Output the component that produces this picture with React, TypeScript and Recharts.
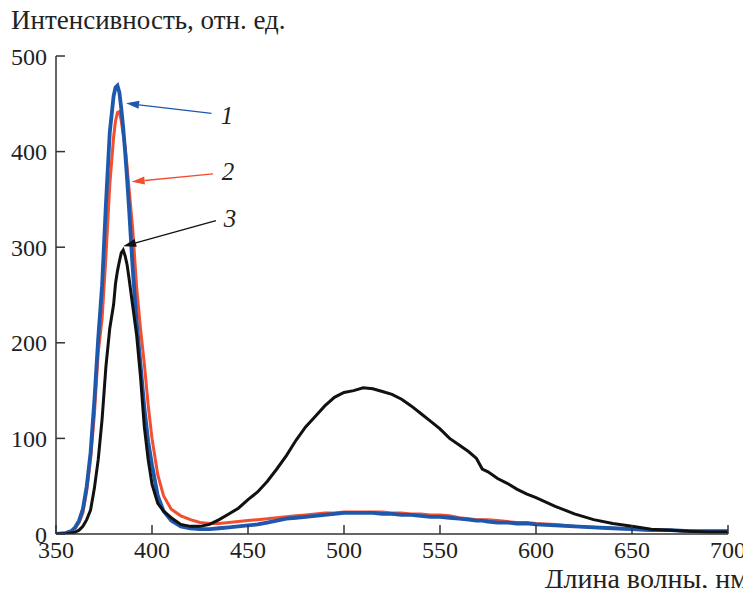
import React from 'react';
import {
  LineChart,
  Line,
  XAxis,
  YAxis,
  ReferenceLine,
  ReferenceDot,
} from 'recharts';

// длина волны, нм
const wavelengths = [
  350, 355, 358, 360, 362, 364, 366, 368, 370, 372, 374, 376, 378, 380, 381, 382, 383, 384, 385, 386,
  387, 388, 390, 392, 394, 396, 398, 400, 403, 406, 410, 415, 420, 425, 430, 435, 440, 445, 450, 455,
  460, 465, 470, 475, 480, 485, 490, 495, 500, 505, 510, 515, 520, 525, 530, 535, 540, 545, 550, 555,
  560, 565, 569, 572, 575, 580, 585, 590, 595, 600, 610, 620, 630, 640, 650, 660, 670, 680, 690, 700,
];

// кривая 1 (синяя)
const curve1 = [
  0, 1, 3, 7, 14, 26, 50, 85, 140, 205, 260, 345, 420, 458, 467, 469, 462, 445, 425, 400,
  372, 342, 276, 222, 178, 132, 97, 72, 40, 24, 14, 8, 6, 5, 5, 6, 7, 8, 9, 10,
  12, 14, 16, 17, 18, 19, 20, 21, 22, 22, 22, 22, 21, 21, 20, 20, 19, 18, 18, 17,
  16, 15, 14, 14, 13, 12, 12, 11, 11, 10, 9, 8, 7, 6, 5, 4, 4, 3, 3, 3,
];

// кривая 2 (красная)
const curve2 = [
  0, 1, 3, 6, 12, 22, 45, 78, 125, 190, 225, 290, 365, 415, 432, 441, 442, 432, 418, 405,
  385, 362, 318, 258, 215, 178, 135, 100, 62, 40, 26, 19, 15, 12, 11, 11, 12, 13, 14, 15,
  16, 17, 18, 19, 20, 21, 22, 22, 23, 23, 23, 23, 23, 22, 22, 21, 21, 20, 20, 19,
  17, 16, 15, 15, 15, 14, 13, 12, 12, 11, 10, 8, 7, 6, 5, 4, 4, 3, 3, 3,
];

// кривая 3 (чёрная)
const curve3 = [
  0, 0, 1, 2, 4, 8, 15, 25, 48, 78, 120, 175, 215, 240, 262, 275, 285, 294, 297, 291,
  282, 268, 238, 208, 165, 112, 78, 52, 32, 24, 17, 10, 8, 8, 10, 15, 21, 27, 36, 44,
  55, 68, 82, 98, 112, 123, 134, 143, 148, 150, 153, 152, 149, 146, 141, 134, 126, 118, 110, 100,
  93, 86, 79, 68, 65, 58, 53, 47, 42, 38, 29, 21, 15, 11, 8, 5, 4, 3, 2, 2,
];

const xTicks = [350, 400, 450, 500, 550, 600, 650, 700];
const yTicks = [0, 100, 200, 300, 400, 500];

// подписи кривых: номер, положение подписи, хвост и острие стрелки (в единицах осей)
const labelNames = ['1', '2', '3'];
const labelX = [439, 439.6, 440.6];
const labelY = [438, 379, 330];
const arrowFromX = [431, 431.8, 433.3];
const arrowFromY = [440, 376.6, 327.7];
const arrowToX = [386.5, 389.4, 385];
const arrowToY = [450.5, 368.5, 301];

const colors = ['#1d58ad', '#f24f31', '#111111'];

const data = wavelengths.map((wl, i) => ({
  wl,
  c1: curve1[i],
  c2: curve2[i],
  c3: curve3[i],
}));

const serif = "'Liberation Serif', 'DejaVu Serif', serif";

function Arrow(props: any) {
  const { x1, y1, x2, y2, stroke } = props;
  const ang = Math.atan2(y2 - y1, x2 - x1);
  const len = 13;
  const half = 4;
  const bx = x2 - len * Math.cos(ang);
  const by = y2 - len * Math.sin(ang);
  const px = -Math.sin(ang) * half;
  const py = Math.cos(ang) * half;
  return (
    <g>
      <line x1={x1} y1={y1} x2={bx} y2={by} stroke={stroke} strokeWidth={1.3} />
      <polygon
        points={`${x2},${y2} ${bx + px},${by + py} ${bx - px},${by - py}`}
        fill={stroke}
      />
    </g>
  );
}

export default function App() {
  return (
    <div style={{ position: 'relative', width: 743, height: 580, fontFamily: serif }}>
      <div
        style={{
          position: 'absolute',
          left: 3,
          top: -1,
          fontSize: 27,
          lineHeight: 1,
          color: '#222',
          whiteSpace: 'nowrap',
          fontFamily: serif,
        }}
      >
        Интенсивность, отн. ед.
      </div>
      <LineChart
        width={743}
        height={580}
        data={data}
        margin={{ top: 48, right: 23, bottom: 14, left: 0 }}
        style={{ fontFamily: serif }}
      >
        <XAxis
          dataKey="wl"
          type="number"
          domain={[350, 700]}
          ticks={xTicks}
          height={40}
          tickSize={-9}
          tickMargin={16}
          axisLine={{ stroke: '#333', strokeWidth: 1.5 }}
          tickLine={{ stroke: '#333', strokeWidth: 1.5 }}
          tick={{ fontSize: 24, fill: '#222', fontFamily: serif }}
          interval={0}
          allowDataOverflow
        />
        <YAxis
          type="number"
          domain={[0, 500]}
          ticks={yTicks}
          width={48}
          tickSize={-9}
          tickMargin={18}
          axisLine={{ stroke: '#333', strokeWidth: 1.5 }}
          tickLine={{ stroke: '#333', strokeWidth: 1.5 }}
          tick={{ fontSize: 24, fill: '#222', fontFamily: serif }}
          interval={0}
          allowDataOverflow
        />
        <Line
          type="linear"
          dataKey="c2"
          stroke={colors[1]}
          strokeWidth={3}
          dot={false}
          isAnimationActive={false}
        />
        <Line
          type="linear"
          dataKey="c1"
          stroke={colors[0]}
          strokeWidth={3.8}
          dot={false}
          isAnimationActive={false}
        />
        <Line
          type="linear"
          dataKey="c3"
          stroke={colors[2]}
          strokeWidth={3}
          dot={false}
          isAnimationActive={false}
        />
        {labelNames.map((name, i) => (
          <ReferenceLine
            key={`arrow-${name}`}
            segment={[
              { x: arrowFromX[i], y: arrowFromY[i] },
              { x: arrowToX[i], y: arrowToY[i] },
            ]}
            stroke={colors[i]}
            shape={Arrow}
          />
        ))}
        {labelNames.map((name, i) => (
          <ReferenceDot
            key={`label-${name}`}
            x={labelX[i]}
            y={labelY[i]}
            r={0}
            shape={(p: any) => (
              <text
                x={p.cx}
                y={p.cy}
                dy="0.35em"
                textAnchor="middle"
                fontSize={25}
                fontStyle="italic"
                fontFamily={serif}
                fill="#222"
              >
                {name}
              </text>
            )}
          />
        ))}
      </LineChart>
      <div
        style={{
          position: 'absolute',
          right: 3,
          top: 557,
          fontSize: 28,
          lineHeight: 1,
          color: '#222',
          whiteSpace: 'nowrap',
          fontFamily: serif,
        }}
      >
        Длина волны, нм
      </div>
    </div>
  );
}
